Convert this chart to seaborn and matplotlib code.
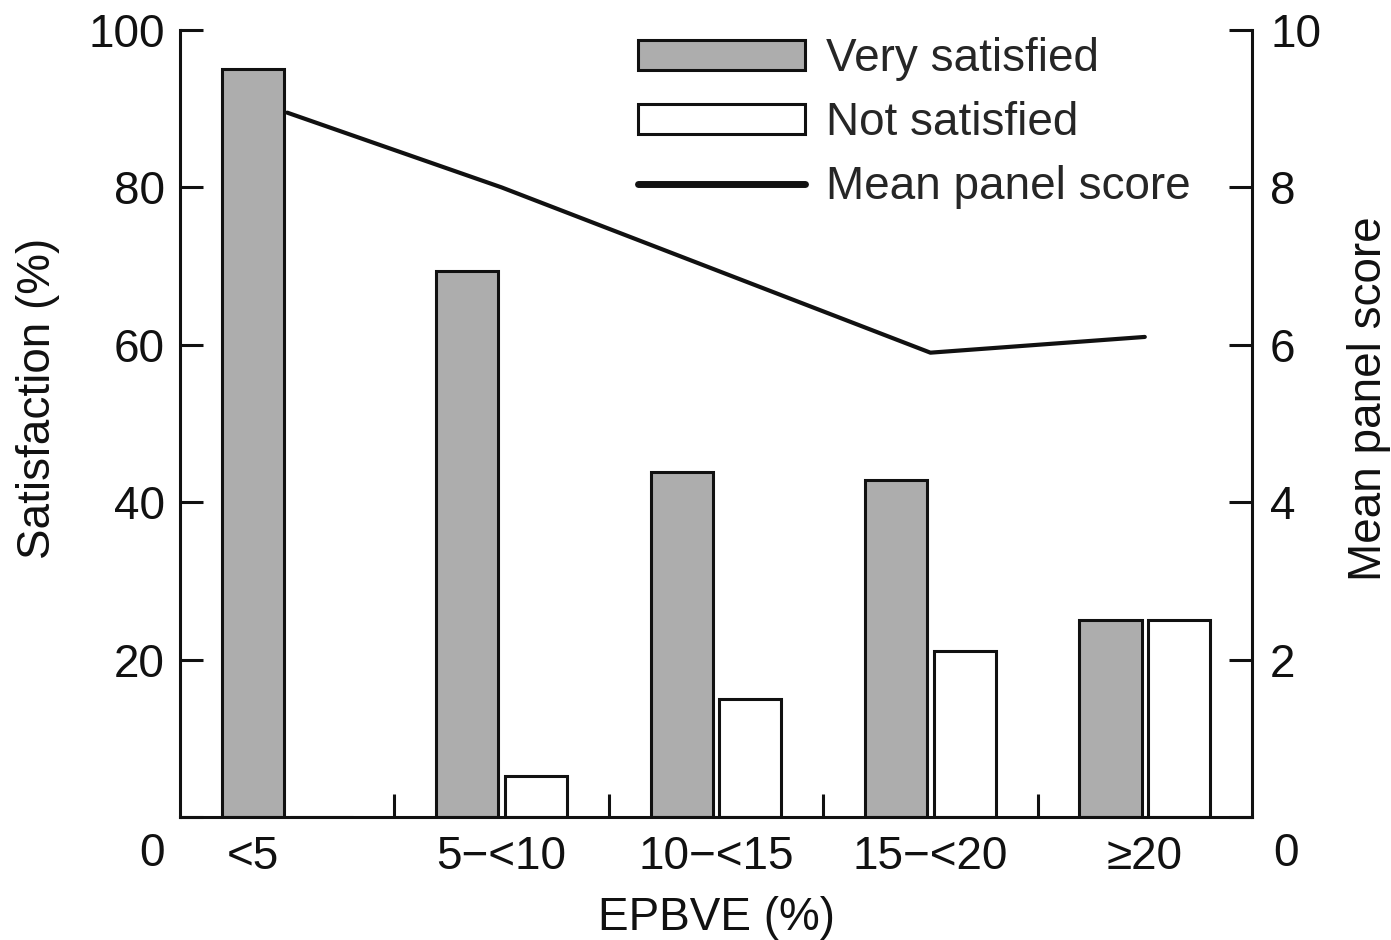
import numpy as np
import pandas as pd
import matplotlib
matplotlib.use('Agg')
import matplotlib.pyplot as plt
from matplotlib.patches import Patch
from matplotlib.lines import Line2D
import seaborn as sns

# values
groups = ['<5', '5\u2212<10', '10\u2212<15', '15\u2212<20', '\u226520']
very_satisfied = [95, 69.4, 43.8, 42.8, 25]
not_satisfied = [0, 5.2, 15, 21.1, 25]
mean_score = [8.95, 8.0, 6.95, 5.9, 6.1]
sat_ticks = [0, 20, 40, 60, 80, 100]
score_ticks = [0, 2, 4, 6, 8, 10]

GRAY = '#adadad'
INK = '#111111'
FS = 33

sns.set_style('ticks')
plt.rcParams['font.family'] = ['Liberation Sans', 'DejaVu Sans']

df = pd.DataFrame({
    'group': groups * 2,
    'value': very_satisfied + not_satisfied,
    'kind': ['Very satisfied'] * len(groups) + ['Not satisfied'] * len(groups),
})

fig = plt.figure(figsize=(13.91, 9.40), dpi=100)
ax = fig.add_axes([180 / 1391, 123 / 940, 1072 / 1391, 787 / 940])

sns.barplot(data=df, x='group', y='value', hue='kind', order=groups,
            hue_order=['Very satisfied', 'Not satisfied'],
            palette={'Very satisfied': GRAY, 'Not satisfied': 'white'},
            saturation=1, width=0.64, gap=0.094, edgecolor=INK,
            linewidth=2.2, legend=False, ax=ax)

ax2 = ax.twinx()
sns.lineplot(x=np.arange(len(groups)), y=mean_score, color=INK,
             linewidth=3, ax=ax2)

ax.set_xlim(-0.5, 4.5)
ax.set_ylim(0, 100)
ax2.set_ylim(0, 10)

# label under the grey bar when the white bar is empty
offset = 0.16
label_pos = [i - offset if n == 0 else i for i, n in enumerate(not_satisfied)]
ax.set_xticks(label_pos, groups)
ax.set_xticks(np.arange(len(groups) - 1) + 0.5, minor=True)
ax.tick_params(axis='x', which='major', length=0, pad=13, labelsize=FS, colors=INK)
ax.tick_params(axis='x', which='minor', direction='in', length=16.5, width=2.2, color=INK)

ax.set_yticks(sat_ticks, [''] + [str(t) for t in sat_ticks[1:]])
ax2.set_yticks(score_ticks, [''] + [str(t) for t in score_ticks[1:]])
ax.tick_params(axis='y', direction='in', length=16.5, width=2.2, pad=11,
               labelsize=FS, colors=INK)
ax2.tick_params(axis='y', direction='in', length=16.5, width=2.2, pad=13,
                labelsize=FS, colors=INK)

# the zero labels sit on the row of the category labels
ax.annotate('0', xy=(0, 0), xycoords='axes fraction', xytext=(-11, -27),
            textcoords='offset points', ha='right', va='center', fontsize=FS, color=INK)
ax2.annotate('0', xy=(1, 0), xycoords='axes fraction', xytext=(15, -27),
             textcoords='offset points', ha='left', va='center', fontsize=FS, color=INK)

for a in (ax, ax2):
    a.spines['top'].set_visible(False)
    for s in a.spines.values():
        s.set_linewidth(2.2)
        s.set_color(INK)
ax.spines['right'].set_visible(False)
ax2.spines['left'].set_visible(False)
ax2.spines['bottom'].set_visible(False)

ax.set_xlabel('EPBVE (%)', fontsize=FS, color=INK)
ax.xaxis.set_label_coords(0.5, -0.1)
ax.set_ylabel('Satisfaction (%)', fontsize=FS, color=INK)
ax.yaxis.set_label_coords(-0.112, 0.532)
ax2.set_ylabel('Mean panel score', fontsize=FS, color=INK)
ax2.yaxis.set_label_coords(1.089, 0.532)

handles = [Patch(facecolor=GRAY, edgecolor=INK, linewidth=2.2),
           Patch(facecolor='white', edgecolor=INK, linewidth=2.2),
           Line2D([], [], color=INK, linewidth=5)]
ax2.legend(handles, ['Very satisfied', 'Not satisfied', 'Mean panel score'],
           loc='upper left', bbox_to_anchor=(638 / 1391, 903 / 940),
           bbox_transform=fig.transFigure, frameon=False, fontsize=FS,
           handlelength=3.65, handleheight=0.65, handletextpad=0.45,
           labelspacing=0.44, borderpad=0, borderaxespad=0)

fig.savefig('out.png', dpi=100)
